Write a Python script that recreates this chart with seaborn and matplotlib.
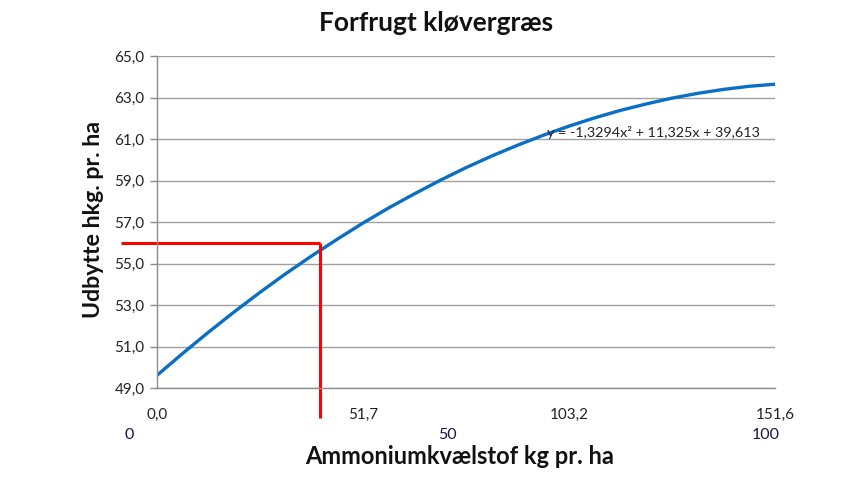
import matplotlib
matplotlib.use("Agg")
import matplotlib.pyplot as plt
import matplotlib.transforms as mtransforms
import seaborn as sns
import pandas as pd

# ---- data ----
cat_pos = [1, 1.125, 1.25, 1.375, 1.5, 1.625, 1.75, 1.875, 2, 2.125, 2.25, 2.375,
           2.5, 2.625, 2.75, 2.875, 3, 3.125, 3.25, 3.375, 3.5, 3.625, 3.75, 3.875, 4]
yield_vals = [49.61, 50.67, 51.69, 52.67, 53.61, 54.51, 55.36, 56.17, 56.95, 57.68,
              58.36, 59.01, 59.62, 60.18, 60.70, 61.18, 61.62, 62.02, 62.38, 62.69,
              62.97, 63.20, 63.39, 63.54, 63.64]
cat_ticks = [1, 2, 3, 4]
cat_labels = ["0,0", "51,7", "103,2", "151,6"]
kg_ticks = [0, 50, 100]
kg_labels = ["0", "50", "100"]
y_ticks = [49, 51, 53, 55, 57, 59, 61, 63, 65]
red_kg = 30
red_yield = 56.0
equation = "y = -1,3294x² + 11,325x + 39,613"
title = "Forfrugt kløvergræs"
xlabel = "Ammoniumkvælstof kg pr. ha"
ylabel = "Udbytte hkg. pr. ha"

sns.set_theme(style="white")
plt.rcParams["font.family"] = ["Lato", "DejaVu Sans"]

W, H = 850, 478
fig = plt.figure(figsize=(W / 100, H / 100), dpi=100)
ax = fig.add_axes([157 / W, (H - 388) / H, 618 / W, (388 - 56) / H])

df = pd.DataFrame({"x": cat_pos, "y": yield_vals})
sns.lineplot(data=df, x="x", y="y", ax=ax, color="#0A6EC4", linewidth=2.4)

ax.set_xlim(1, 4)
ax.set_ylim(49, 65)
ax.set_yticks(y_ticks)
ax.set_yticklabels([f"{v:.1f}".replace(".", ",") for v in y_ticks], fontsize=11, color="#222222")
ax.set_xticks(cat_ticks)
ax.set_xticklabels(cat_labels, fontsize=11, color="#222222")
ax.tick_params(axis="x", length=0, pad=14)
ax.tick_params(axis="y", length=5, width=1, color="#8C8C8C", pad=4, direction="out", left=True)
ax.yaxis.grid(True, color="#A0A0A0", linewidth=1)
ax.xaxis.grid(False)
for s in ["top", "right"]:
    ax.spines[s].set_visible(False)
for s in ["left", "bottom"]:
    ax.spines[s].set_color("#8C8C8C")
    ax.spines[s].set_linewidth(1)
ax.set_xlabel("")
ax.set_ylabel("")

# secondary kg scale (mapped onto the category axis)
c0 = 1 + (129 - 157) / 206
k = (766 - 129) / 100 / 206
inv = lambda kg: c0 + kg * k
trans = mtransforms.blended_transform_factory(ax.transData, ax.transAxes)
y_sec = -(435 - 388) / (388 - 56)
for kg, lab in zip(kg_ticks, kg_labels):
    ax.text(inv(kg), y_sec, lab, transform=trans, fontsize=11.5, color="#141450",
            ha="center", va="center", clip_on=False)

# red guide lines
x_red = inv(red_kg)
x_left = 1 - 36 / 206
y_bottom = 49 - 30 / 20.75
ax.plot([x_left, x_red], [red_yield, red_yield], color="#FF0000", lw=2.2, clip_on=False, solid_capstyle="butt")
ax.plot([x_red, x_red], [red_yield, y_bottom], color="#FF0000", lw=2.2, clip_on=False, solid_capstyle="butt")

# equation
ax.text(1 + (547 - 157) / 206, 61.3, equation, fontsize=10.4, color="#222222", va="center", ha="left")

fig.text(436 / W, 1 - 23 / H, title, fontsize=19, fontweight="bold", ha="center", va="center", color="#111111")
fig.text(460 / W, 1 - 457 / H, xlabel, fontsize=17, fontweight="bold", ha="center", va="center", color="#111111")
fig.text(94 / W, 1 - 220 / H, ylabel, fontsize=16.7, fontweight="bold", ha="center", va="center", rotation=90, color="#111111")

fig.savefig("out.png", dpi=100, facecolor="white")
